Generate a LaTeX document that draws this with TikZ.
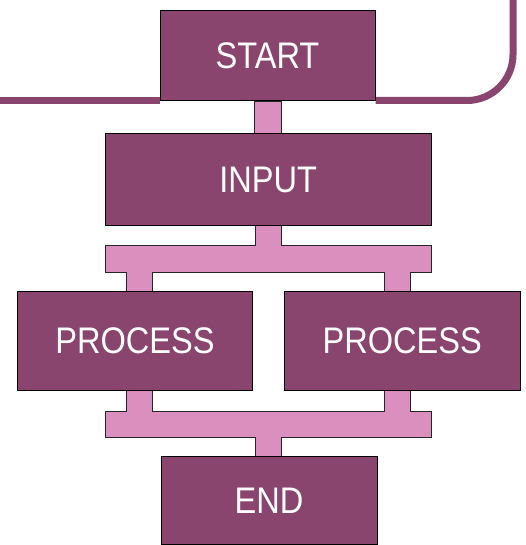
\documentclass[tikz,border=0pt]{standalone}
\usepackage{fontspec}
\setmainfont{Liberation Sans}
\usepackage{graphicx}
\usetikzlibrary{calc}
\definecolor{boxpurple}{HTML}{8A456F}
\definecolor{linkpink}{HTML}{DA8FBE}
\newcommand\boxtxt[1]{\scalebox{0.88}[1]{#1}}
\pgfdeclarelayer{background}
\pgfsetlayers{background,main}
\tikzset{
  stepbox/.style={draw=black, line width=1pt, fill=boxpurple, text=white, inner sep=0pt,
    font=\fontsize{37}{40}\selectfont},
  link/.style={draw=black!85, line width=0.9pt, fill=linkpink},
  frame/.style={draw=boxpurple, line width=7pt},
}
\begin{document}
\begin{tikzpicture}[x=1pt,y=-1pt]
\useasboundingbox (0,0) rectangle (526,545);
% boxes
\node[stepbox, minimum width=215pt, minimum height=90pt] (start) at (267.5,55.5) {\boxtxt{START}};
\node[stepbox, minimum width=325.5pt, minimum height=92pt] (input) at (268.25,179.5) {\boxtxt{INPUT}};
\node[stepbox, minimum width=235pt, minimum height=99pt] (p1) at (135,341) {\boxtxt{PROCESS}};
\node[stepbox, minimum width=235.5pt, minimum height=99pt] (p2) at (402.25,341) {\boxtxt{PROCESS}};
\node[stepbox, minimum width=216pt, minimum height=88pt] (end) at (269,500.5) {\boxtxt{END}};
\begin{pgfonlayer}{background}
% frame line
\draw[frame] (0,100.5) -- (start.west |- 0,100.5);
\draw[frame, rounded corners=46pt] (start.east |- 0,100.5) -- (513,100.5) -- (513,-5);
% connectors
\draw[link] ($(start.south)+(-13,0)$) rectangle ($(input.north)+(13,0)$);
\draw[link] (255.5,225) -- (255.5,245.7) -- (105.7,245.7) -- (105.7,272) -- (126.7,272) -- (126.7,291)
  -- (152.3,291) -- (152.3,272) -- (384.3,272) -- (384.3,291) -- (410.3,291) -- (410.3,272)
  -- (431,272) -- (431,245.7) -- (281,245.7) -- (281,225) -- cycle;
\draw[link] (126.7,390) -- (126.7,411.3) -- (105.7,411.3) -- (105.7,437.3) -- (255.7,437.3) -- (255.7,456)
  -- (281,456) -- (281,437.3) -- (431,437.3) -- (431,411.3) -- (410.3,411.3) -- (410.3,390)
  -- (384.3,390) -- (384.3,411.3) -- (152.3,411.3) -- (152.3,390) -- cycle;
\end{pgfonlayer}
\end{tikzpicture}
\end{document}
